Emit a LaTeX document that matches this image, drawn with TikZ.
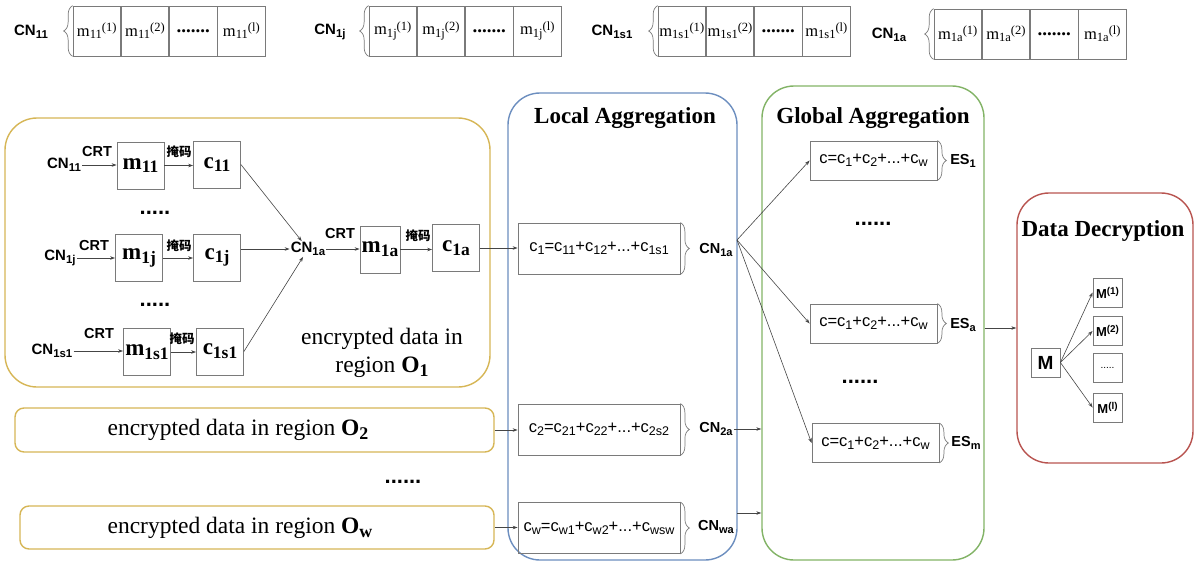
\documentclass[tikz,border=0pt]{standalone}
\usepackage{fontspec}
\setmainfont{Liberation Serif}
\setsansfont{Liberation Sans}
\newfontfamily\cjk{Noto Sans CJK SC}
\usetikzlibrary{arrows.meta,decorations.pathreplacing}
\definecolor{ygold}{HTML}{D6B656}
\definecolor{lblue}{HTML}{6C8EBF}
\definecolor{lgreen}{HTML}{82B366}
\definecolor{lred}{HTML}{B85450}
\definecolor{cellc}{HTML}{7A7A7A}
\definecolor{arrc}{HTML}{454545}
\makeatletter
\newcommand\mysub[1]{\raisebox{-0.35ex}{\fontsize{\fpeval{0.76*\f@size}}{\fpeval{0.9*\f@size}}\selectfont #1}}
\newcommand\mysup[1]{\raisebox{0.6ex}{\fontsize{\fpeval{0.76*\f@size}}{\fpeval{0.9*\f@size}}\selectfont #1}}
\makeatother
\begin{document}
\begin{tikzpicture}[x=1pt,y=-1pt,
  every node/.style={inner sep=1pt},
  lab/.style={font=\sffamily\bfseries\fontsize{15}{17}\selectfont},
  crt/.style={font=\sffamily\bfseries\fontsize{14.5}{16}\selectfont},
  mask/.style={font=\cjk\bfseries\fontsize{12.5}{14}\selectfont},
  cell/.style={draw=cellc, line width=0.7pt, minimum width=47.5pt, minimum height=50pt, inner sep=0pt, font=\fontsize{16.5}{18}\selectfont},
  blk/.style={draw=cellc, line width=0.8pt, minimum width=47pt, minimum height=47pt, inner sep=0pt, font=\bfseries\fontsize{23}{25}\selectfont},
  fbox/.style={draw=cellc, line width=0.8pt, minimum height=51pt, minimum width=162pt, inner sep=0pt, font=\sffamily\fontsize{16.5}{18}\selectfont},
  ebox/.style={draw=cellc, line width=0.8pt, minimum height=39pt, minimum width=127pt, inner sep=0pt, font=\sffamily\fontsize{16.5}{18}\selectfont},
  mbox/.style={draw=cellc, line width=0.8pt, minimum width=29pt, minimum height=29pt, inner sep=0pt, font=\sffamily\bfseries\fontsize{13}{15}\selectfont},
  arr/.style={draw=arrc, line width=0.6pt, -{Stealth[length=5pt,width=3.5pt]}},
  brc/.style={draw=cellc, line width=0.7pt, decorate, decoration={brace, amplitude=9pt}},
  panel/.style={rounded corners=32pt, line width=1.4pt, inner sep=0pt},
  slim/.style={rounded corners=9pt, line width=1.4pt, inner sep=0pt, draw=ygold},
  ttl/.style={font=\bfseries\fontsize{23}{25}\selectfont},
  regtxt/.style={font=\fontsize{23.5}{28}\selectfont, align=center},
  otxt/.style={font=\fontsize{23.5}{26}\selectfont},
  dotsb/.style={font=\sffamily\bfseries\fontsize{22}{24}\selectfont}
]
\useasboundingbox (0,0) rectangle (1203,571);

% ---------- top row ----------
\node[lab] (t1) at (31,32) {CN\mysub{11}};
\node[cell] (t1a) at (96.75,31) {m\mysub{11}\mysup{(1)}};
\node[cell,anchor=west] (t1b) at (t1a.east) {m\mysub{11}\mysup{(2)}};
\node[cell,anchor=west] (t1c) at (t1b.east) {\textbf{\fontsize{19}{20}\selectfont .......}};
\node[cell,anchor=west] (t1d) at (t1c.east) {m\mysub{11}\mysup{(l)}};
\draw[brc] (t1a.south west) -- (t1a.north west);

\node[lab] (t2) at (330,32) {CN\mysub{1j}};
\node[cell] (t2a) at (392.75,31) {m\mysub{1j}\mysup{(1)}};
\node[cell,anchor=west] (t2b) at (t2a.east) {m\mysub{1j}\mysup{(2)}};
\node[cell,anchor=west] (t2c) at (t2b.east) {\textbf{\fontsize{19}{20}\selectfont .......}};
\node[cell,anchor=west] (t2d) at (t2c.east) {m\mysub{1j}\mysup{(l)}};
\draw[brc] (t2a.south west) -- (t2a.north west);

\node[lab] (t3) at (612,32) {CN\mysub{1s1}};
\node[cell] (t3a) at (681.75,31) {m\mysub{1s1}\mysup{(1)}};
\node[cell,anchor=west] (t3b) at (t3a.east) {m\mysub{1s1}\mysup{(2)}};
\node[cell,anchor=west] (t3c) at (t3b.east) {\textbf{\fontsize{19}{20}\selectfont .......}};
\node[cell,anchor=west] (t3d) at (t3c.east) {m\mysub{1s1}\mysup{(l)}};
\draw[brc] (t3a.south west) -- (t3a.north west);

\node[lab] (t4) at (889,35) {CN\mysub{1a}};
\node[cell] (t4a) at (957.75,34) {m\mysub{1a}\mysup{(1)}};
\node[cell,anchor=west] (t4b) at (t4a.east) {m\mysub{1a}\mysup{(2)}};
\node[cell,anchor=west] (t4c) at (t4b.east) {\textbf{\fontsize{19}{20}\selectfont .......}};
\node[cell,anchor=west] (t4d) at (t4c.east) {m\mysub{1a}\mysup{(l)}};
\draw[brc] (t4a.south west) -- (t4a.north west);

% ---------- panels ----------
\node[panel, draw=ygold, minimum width=485pt, minimum height=269pt] (reg1) at (247.5,252.5) {};
\node[panel, draw=lblue, minimum width=229pt, minimum height=467pt] (bbox) at (622.5,326.5) {};
\node[panel, draw=lgreen, minimum width=222pt, minimum height=474pt] (gbox) at (873,323) {};
\node[panel, draw=lred, minimum width=176pt, minimum height=270pt] (rbox) at (1105,328) {};

% ---------- region O1 ----------
\node[lab] (cn11) at (64,165) {CN\mysub{11}};
\node[crt] (crt1) at (97,152) {CRT};
\node[blk] (m11) at (140.5,165.5) {m\mysub{11}};
\node[mask] (mk1) at (179,152) {掩码};
\node[blk] (c11) at (217,164.5) {c\mysub{11}};
\draw[arr] (cn11.east) -- (cn11.east -| m11.west);
\draw[arr] (m11.east) -- (m11.east -| c11.west);

\node[dotsb] (d1) at (155,213) {.....};

\node[lab] (cn1j) at (60,258) {CN\mysub{1j}};
\node[crt] (crt2) at (94,246) {CRT};
\node[blk] (m1j) at (139,258) {m\mysub{1j}};
\node[mask] (mk2) at (179,246) {掩码};
\node[blk] (c1j) at (217,257.5) {c\mysub{1j}};
\draw[arr] (cn1j.east) -- (cn1j.east -| m1j.west);
\draw[arr] (m1j.east) -- (m1j.east -| c1j.west);

\node[dotsb] (d2) at (155,305) {.....};

\node[lab] (cn1s) at (52,351) {CN\mysub{1s1}};
\node[crt] (crt3) at (99,334) {CRT};
\node[blk] (m1s) at (147,352) {m\mysub{1s1}};
\node[mask] (mk3) at (182,339) {掩码};
\node[blk] (c1s) at (220,351.5) {c\mysub{1s1}};
\draw[arr] (cn1s.east) -- (cn1s.east -| m1s.west);
\draw[arr] (m1s.east) -- (m1s.east -| c1s.west);

\node[lab] (cn1a) at (308,249) {CN\mysub{1a}};
\node[crt] (crt4) at (340,234) {CRT};
\node[blk, minimum width=40pt] (m1a) at (380,249.5) {m\mysub{1a}};
\node[mask] (mk4) at (418,236) {掩码};
\node[blk] (c1a) at (456,248) {c\mysub{1a}};
\draw[arr] (cn1a.east) -- (cn1a.east -| m1a.west);
\draw[arr] (m1a.east) -- (m1a.east -| c1a.west);

\draw[arr] (c11.east) -- (cn1a);
\draw[arr] (c1j.east |- cn1a.west) -- (cn1a.west);
\draw[arr] (c1s.east) -- (cn1a);

\node[regtxt] (r1t) at (382,353) {encrypted data in\\region \textbf{O\mysub{1}}};

% ---------- other regions ----------
\node[slim, minimum width=479pt, minimum height=44pt] (o2) at (254.5,430) {};
\node[otxt] (o2t) at (238,430) {encrypted data in region \textbf{O\mysub{2}}};
\node[dotsb] (d3) at (403,482) {......};
\node[slim, minimum width=474pt, minimum height=43pt] (ow) at (257,527.5) {};
\node[otxt] (owt) at (240,528) {encrypted data in region \textbf{O\mysub{w}}};

% ---------- local aggregation ----------
\node[ttl] (lt) at (625,118) {Local Aggregation};
\node[fbox] (f1) at (599,248.5) {c\mysub{1}=c\mysub{11}+c\mysub{12}+...+c\mysub{1s1}};
\node[fbox] (f2) at (599,429.5) {c\mysub{2}=c\mysub{21}+c\mysub{22}+...+c\mysub{2s2}};
\node[fbox] (fw) at (599,528) {c\mysub{w}=c\mysub{w1}+c\mysub{w2}+...+c\mysub{wsw}};
\draw[brc] (f1.north east) -- (f1.south east);
\draw[brc] (f2.north east) -- (f2.south east);
\draw[brc] (fw.north east) -- (fw.south east);
\node[crt] (l1) at (716,250) {CN\mysub{1a}};
\node[crt] (l2) at (716,429) {CN\mysub{2a}};
\node[crt] (lw) at (716,527) {CN\mysub{wa}};

\draw[arr] (c1a.east) -- (c1a.east -| f1.west);
\draw[arr] (o2.east) -- (o2.east -| f2.west);
\draw[arr] (ow.east) -- (ow.east -| fw.west);

% ---------- global aggregation ----------
\node[ttl] (gt) at (873,118) {Global Aggregation};
\node[ebox] (es1) at (873.5,160.5) {c=c\mysub{1}+c\mysub{2}+...+c\mysub{w}};
\node[ebox] (esa) at (873.5,323.5) {c=c\mysub{1}+c\mysub{2}+...+c\mysub{w}};
\node[ebox] (esm) at (875.5,443) {c=c\mysub{1}+c\mysub{2}+...+c\mysub{w}};
\draw[brc] (es1.north east) -- (es1.south east);
\draw[brc] (esa.north east) -- (esa.south east);
\draw[brc] (esm.north east) -- (esm.south east);
\node[crt] (e1) at (963,161) {ES\mysub{1}};
\node[crt] (ea) at (963,325) {ES\mysub{a}};
\node[crt] (em) at (966,443) {ES\mysub{m}};
\node[dotsb] (d4) at (873,224) {......};
\node[dotsb] (d5) at (860,382) {......};

\coordinate (hub) at (737,240);
\draw[arr] (hub) -- (es1.west);
\draw[arr] (hub) -- (esa.west);
\draw[arr] (hub) -- (esm.west);
\draw[arr] (l2.east) -- (l2.east -| gbox.west);
\coordinate (wout) at (737,513);
\draw[arr] (wout) -- (wout -| gbox.west);

% ---------- data decryption ----------
\node[ttl] (dt) at (1103,231) {Data Decryption};
\draw[arr] (gbox.east |- rbox.west) -- (rbox.west);
\node[mbox, font=\sffamily\bfseries\fontsize{19}{21}\selectfont] (M) at (1045.5,362.5) {M};
\node[mbox] (M1) at (1107.5,292.5) {M\mysup{(1)}};
\node[mbox] (M2) at (1107.5,331) {M\mysup{(2)}};
\node[mbox, font=\sffamily\fontsize{10}{12}\selectfont] (Md) at (1107.5,368) {.....};
\node[mbox] (Ml) at (1107.5,407.5) {M\mysup{(l)}};
\draw[arr] (M.east) -- (M1.west);
\draw[arr] (M.east) -- (M2.west);
\draw[arr] (M.east) -- (Ml.west);
\end{tikzpicture}
\end{document}
